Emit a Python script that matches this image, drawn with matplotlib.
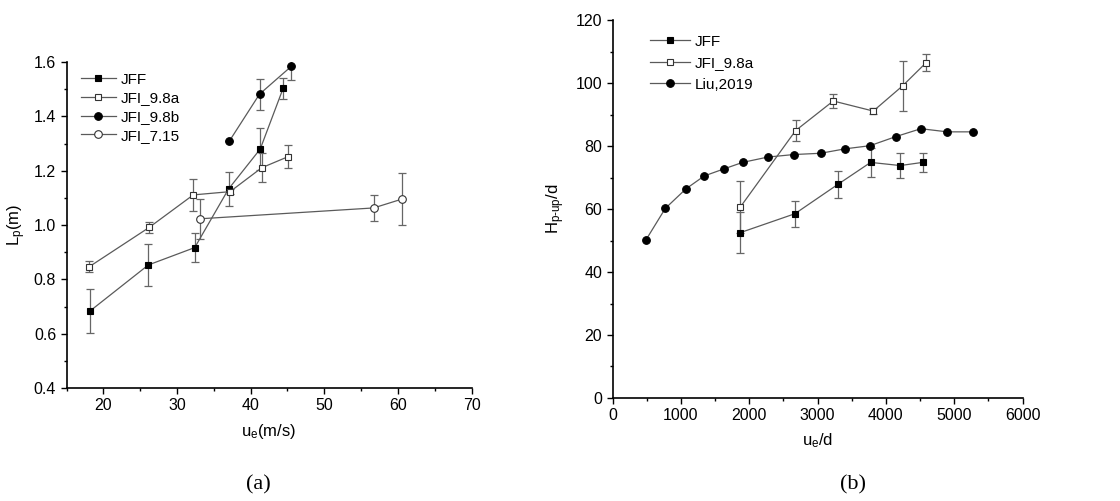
import matplotlib
matplotlib.use('Agg')
import matplotlib.pyplot as plt
from matplotlib.ticker import MultipleLocator

plt.rcParams['font.family'] = ['Liberation Sans', 'DejaVu Sans']
plt.rcParams['mathtext.fontset'] = 'custom'
plt.rcParams['mathtext.rm'] = 'Liberation Sans'
plt.rcParams['mathtext.it'] = 'Liberation Sans'

# (a) L_p vs u_e
jff_x = [18.2, 26.1, 32.4, 37.0, 41.3, 44.4]
jff_y = [0.684, 0.853, 0.917, 1.133, 1.280, 1.503]
jff_e = [0.081, 0.078, 0.053, 0.064, 0.077, 0.039]

a98_x = [18.1, 26.2, 32.2, 37.2, 41.5, 45.1]
a98_y = [0.847, 0.991, 1.111, 1.123, 1.211, 1.252]
a98_e = [0.019, 0.020, 0.059, 0.010, 0.054, 0.043]

b98_x = [37.1, 41.2, 45.5]
b98_y = [1.309, 1.482, 1.584]
b98_e = [0.0, 0.057, 0.051]

f715_x = [33.1, 56.7, 60.6]
f715_y = [1.023, 1.063, 1.096]
f715_e = [0.073, 0.049, 0.096]

# (b) H_p-up/d vs u_e/d
bjff_x = [1868, 2668, 3302, 3776, 4210, 4537]
bjff_y = [52.5, 58.5, 67.9, 74.8, 73.8, 74.8]
bjff_e = [6.5, 4.2, 4.3, 4.6, 4.0, 3.0]

ba98_x = [1868, 2678, 3229, 3815, 4244, 4590]
ba98_y = [60.6, 84.9, 94.3, 91.1, 99.1, 106.5]
ba98_e = [8.2, 3.4, 2.1, 1.0, 8.0, 2.8]

liu_x = [488, 771, 1073, 1341, 1624, 1902, 2273, 2654, 3044, 3400, 3766, 4146, 4512, 4898, 5268]
liu_y = [50.2, 60.2, 66.4, 70.5, 72.7, 74.8, 76.5, 77.3, 77.7, 79.1, 80.1, 83.0, 85.5, 84.5, 84.5]

LINE = '#5a5a5a'


def series(ax, x, y, e, marker, face, label, ms=5):
    if e is not None:
        ax.errorbar(x, y, yerr=e, fmt='none', ecolor='#666666', elinewidth=0.9,
                    capsize=3, capthick=0.9, zorder=1)
    ax.plot(x, y, color=LINE, lw=0.9, marker=marker, ms=ms, mfc=face,
            mec='black' if face == 'black' else '#333333', mew=0.8, label=label, zorder=2)


def style(ax):
    for s in ['top', 'right']:
        ax.spines[s].set_visible(False)
    for s in ['left', 'bottom']:
        ax.spines[s].set_linewidth(1.2)
    ax.tick_params(which='major', direction='out', length=4, width=1, labelsize=11.5)
    ax.tick_params(which='minor', direction='out', length=2.5, width=1)


fig = plt.figure(figsize=(11.2, 5.01), dpi=100)

ax1 = fig.add_axes([0.0595, 0.2256, 0.3615, 0.6504])
series(ax1, jff_x, jff_y, jff_e, 's', 'black', 'JFF', ms=5)
series(ax1, a98_x, a98_y, a98_e, 's', 'white', 'JFI_9.8a', ms=5)
series(ax1, b98_x, b98_y, b98_e, 'o', 'black', 'JFI_9.8b', ms=5.5)
series(ax1, f715_x, f715_y, f715_e, 'o', 'white', 'JFI_7.15', ms=5.5)
ax1.set_xlim(15, 70)
ax1.set_ylim(0.4, 1.6)
ax1.xaxis.set_major_locator(MultipleLocator(10))
ax1.xaxis.set_minor_locator(MultipleLocator(5))
ax1.yaxis.set_major_locator(MultipleLocator(0.2))
ax1.yaxis.set_minor_locator(MultipleLocator(0.1))
ax1.set_xticks([20, 30, 40, 50, 60, 70])
ax1.set_xlabel('u$_\\mathrm{e}$(m/s)', fontsize=12, labelpad=6)
ax1.set_ylabel('L$_\\mathrm{p}$(m)', fontsize=12, labelpad=4)
style(ax1)
ax1.legend(loc='upper left', frameon=False, fontsize=11, handlelength=2.3,
           handletextpad=0.3, labelspacing=0.3, borderaxespad=0.3,
           bbox_to_anchor=(0.008, 1.0))

ax2 = fig.add_axes([0.547, 0.2056, 0.366, 0.7544])
series(ax2, bjff_x, bjff_y, bjff_e, 's', 'black', 'JFF', ms=5)
series(ax2, ba98_x, ba98_y, ba98_e, 's', 'white', 'JFI_9.8a', ms=5)
series(ax2, liu_x, liu_y, None, 'o', 'black', 'Liu,2019', ms=5.5)
ax2.set_xlim(0, 6000)
ax2.set_ylim(0, 120)
ax2.xaxis.set_major_locator(MultipleLocator(1000))
ax2.xaxis.set_minor_locator(MultipleLocator(500))
ax2.yaxis.set_major_locator(MultipleLocator(20))
ax2.yaxis.set_minor_locator(MultipleLocator(10))
ax2.set_xlabel('u$_\\mathrm{e}$/d', fontsize=12, labelpad=6)
ax2.set_ylabel('H$_\\mathrm{p\\text{-}up}$/d', fontsize=12, labelpad=6)
style(ax2)
ax2.legend(loc='upper left', frameon=False, fontsize=11, handlelength=2.6,
           handletextpad=0.3, labelspacing=0.5, borderaxespad=0.3,
           bbox_to_anchor=(0.066, 0.99))

fig.text(0.2304, 0.032, '(a)', ha='center', va='center', fontsize=16, family='Liberation Serif')
fig.text(0.7616, 0.032, '(b)', ha='center', va='center', fontsize=16, family='Liberation Serif')

fig.savefig('out.png', dpi=100)
